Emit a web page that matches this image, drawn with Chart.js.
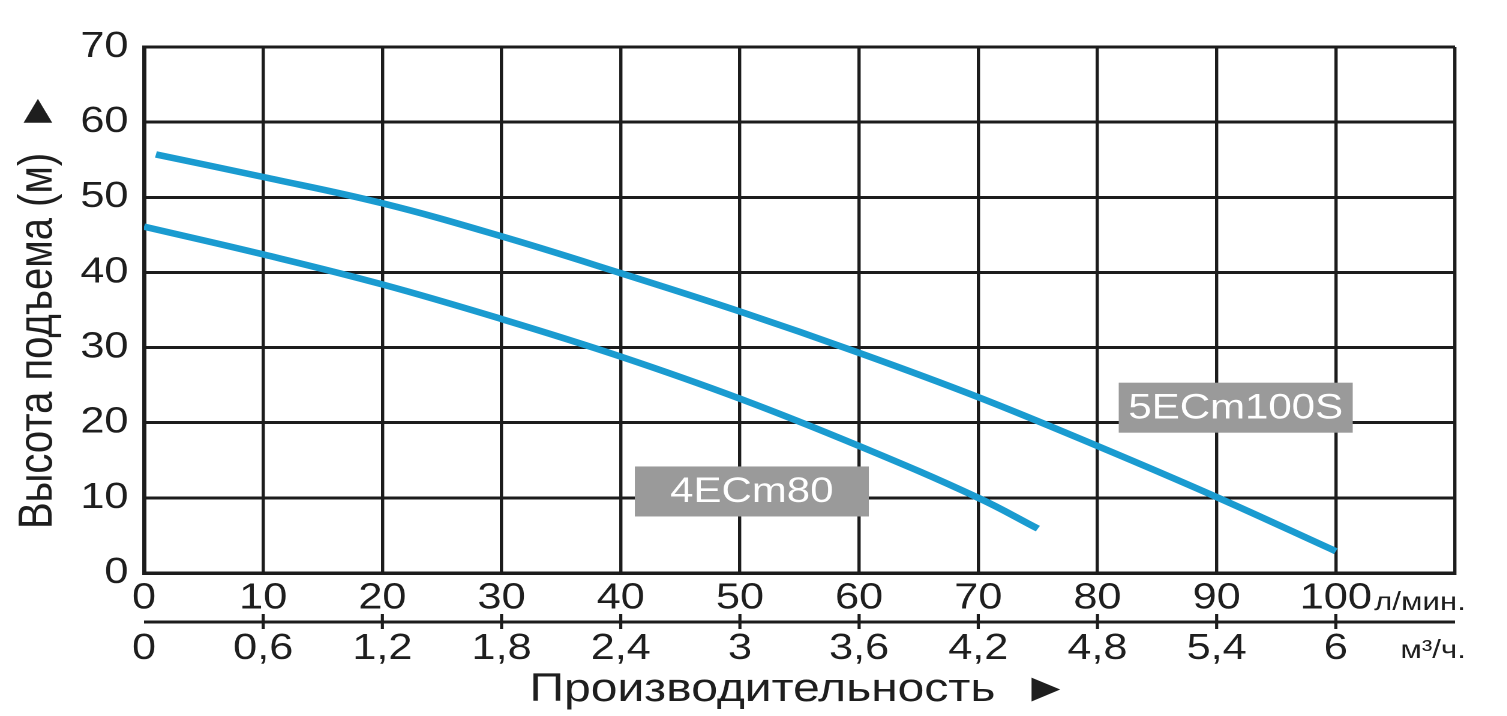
<!DOCTYPE html>
<html>
<head>
<meta charset="utf-8">
<script src="https://cdn.jsdelivr.net/npm/chart.js@4.4.0/dist/chart.umd.min.js"></script>
<style>
  html, body { margin: 0; padding: 0; background: #fff; overflow: hidden; }
  /* the source picture is stretched sideways, so the chart is too */
  #wrap { width: 1256px; height: 716px; transform: scaleX(1.2); transform-origin: 0 0; }
</style>
</head>
<body>
<div id="wrap"><canvas id="pumpChart"></canvas></div>
<script>
const flowLpm = [0, 10, 20, 30, 40, 50, 60, 70, 80, 90, 100];
const flowM3h = ['0', '0,6', '1,2', '1,8', '2,4', '3', '3,6', '4,2', '4,8', '5,4', '6'];
const headTicks = [0, 10, 20, 30, 40, 50, 60, 70];

const pumpNames = ['5ECm100S', '4ECm80'];
const pump5Flow = [1, 10, 20, 30, 40, 50, 60, 70, 80, 90, 100];
const pump5Head = [55.7, 52.7, 49.2, 44.8, 39.9, 34.8, 29.3, 23.4, 16.9, 10.1, 2.9];
const pump4Flow = [0, 10, 20, 30, 40, 50, 60, 70, 75];
const pump4Head = [46.1, 42.4, 38.4, 33.8, 28.8, 23.2, 16.9, 10.0, 5.9];

const lineColor = '#1a9bd0';
const gridColor = '#1c1c1c';
const textColor = '#1e1e1e';
const fontFamily = '"Liberation Sans", Arial, sans-serif';

// where the name tags sit, in chart units
const tagSpots = [
  { name: pumpNames[0], x: 91.6, y: 22.0 },
  { name: pumpNames[1], x: 51.0, y: 10.85 },
];

function toPoints(xs, ys) {
  return xs.map((x, i) => ({ x: x, y: ys[i] }));
}

// second flow row (m3/h), unit labels and the grey name tags
const extraAxisPlugin = {
  id: 'extraAxis',
  afterDatasetsDraw(chart) {
    const { ctx, scales: { x, y } } = chart;
    ctx.save();
    ctx.font = '35px ' + fontFamily;
    ctx.textAlign = 'center';
    ctx.textBaseline = 'middle';
    tagSpots.forEach((tag) => {
      const cx = x.getPixelForValue(tag.x);
      const cy = y.getPixelForValue(tag.y);
      ctx.fillStyle = '#9a9a9a';
      ctx.fillRect(cx - 97.5, cy - 25, 195, 50);
      ctx.fillStyle = '#ffffff';
      ctx.fillText(tag.name, cx, cy + 1);
    });
    ctx.restore();
  },
  afterDraw(chart) {
    const { ctx, scales: { x } } = chart;
    const lineY = 622;
    ctx.save();
    ctx.strokeStyle = gridColor;
    ctx.lineWidth = 3;
    ctx.beginPath();
    ctx.moveTo(x.left, lineY);
    ctx.lineTo(x.right, lineY);
    ctx.stroke();

    ctx.lineWidth = 2.6;
    ctx.fillStyle = textColor;
    ctx.font = '36px ' + fontFamily;
    ctx.textAlign = 'center';
    ctx.textBaseline = 'middle';
    flowLpm.forEach((v, i) => {
      const px = x.getPixelForValue(v);
      if (i > 0) {
        ctx.beginPath();
        ctx.moveTo(px, lineY - 8);
        ctx.lineTo(px, lineY + 7);
        ctx.stroke();
      }
      ctx.fillText(flowM3h[i], px, 649);
    });

    ctx.font = '26px ' + fontFamily;
    ctx.textAlign = 'right';
    ctx.fillText('л/мин.', x.right + 9, 603);
    ctx.fillText('м³/ч.', x.right + 9, 651);
    ctx.restore();
  }
};

const ctx = document.getElementById('pumpChart').getContext('2d');
Chart.defaults.font.family = fontFamily;
Chart.defaults.color = textColor;

new Chart(ctx, {
  type: 'line',
  data: {
    datasets: [
      {
        label: pumpNames[0],
        data: toPoints(pump5Flow, pump5Head),
        borderColor: lineColor,
        borderWidth: 6.5,
        pointRadius: 0,
        fill: false,
        tension: 0.4
      },
      {
        label: pumpNames[1],
        data: toPoints(pump4Flow, pump4Head),
        borderColor: lineColor,
        borderWidth: 6.5,
        pointRadius: 0,
        fill: false,
        tension: 0.4
      }
    ]
  },
  options: {
    responsive: true,
    maintainAspectRatio: false,
    animation: false,
    devicePixelRatio: 2,
    layout: { padding: { top: 47, right: 43.5, bottom: 0, left: 0 } },
    plugins: {
      legend: { display: false },
      tooltip: { enabled: false }
    },
    scales: {
      x: {
        type: 'linear',
        min: 0,
        max: 110,
        afterFit: (scale) => { scale.height = 143; },
        grid: { color: gridColor, lineWidth: 2.7, drawTicks: false },
        border: { display: true, color: gridColor, width: 3.5 },
        ticks: {
          stepSize: 10,
          padding: 4,
          maxRotation: 0,
          autoSkip: false,
          font: { size: 36 },
          callback: (v) => (flowLpm.includes(v) ? String(v) : '')
        },
        title: {
          display: true,
          text: 'Производительность  ►',
          font: { size: 40 },
          padding: { top: 0, bottom: 2 }
        }
      },
      y: {
        min: headTicks[0],
        max: headTicks[headTicks.length - 1],
        afterFit: (scale) => { scale.width = 120; },
        grid: { color: gridColor, lineWidth: 3, drawTicks: false },
        border: { display: true, color: gridColor, width: 3.5 },
        ticks: {
          stepSize: 10,
          padding: 13,
          font: { size: 36 }
        },
        title: {
          display: true,
          text: 'Высота подъема (м)  ►',
          font: { size: 40 },
          padding: { top: 8, bottom: 0 }
        }
      }
    }
  },
  plugins: [extraAxisPlugin]
});
</script>
</body>
</html>
